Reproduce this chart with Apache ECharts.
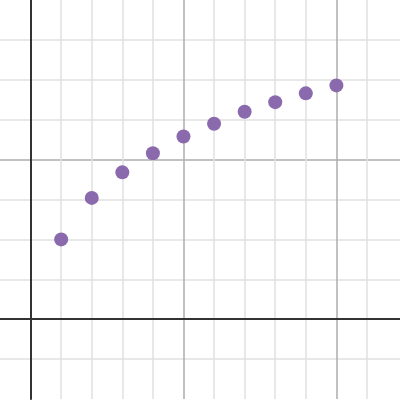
<!DOCTYPE html>
<html>
<head>
<meta charset="utf-8">
<script src="https://cdn.jsdelivr.net/npm/echarts@6/dist/echarts.min.js"></script>
<style>html,body{margin:0;padding:0;background:#fff}#c{width:400px;height:400px}</style>
</head>
<body>
<div id="c"></div>
<script>
const xValues = [1, 2, 3, 4, 5, 6, 7, 8, 9, 10];
const yValues = [1.0, 1.52, 1.84, 2.08, 2.29, 2.45, 2.6, 2.72, 2.83, 2.93];

const MINOR = '#e0e0e0';
const MAJOR = '#acacac';
const AXIS = '#333333';

const xColors = [MAJOR, MINOR, MINOR, MINOR, MINOR, MAJOR, MINOR, MINOR, MINOR, MINOR, MAJOR, MINOR, 'rgba(0,0,0,0)', MINOR, MINOR];

const chart = echarts.init(document.getElementById('c'), null, {renderer: 'canvas'});
chart.setOption({
  animation: false,
  backgroundColor: '#ffffff',
  grid: {left: -2.25, right: 0, top: -1, bottom: 1, containLabel: false},
  xAxis: {
    type: 'value', min: -1, max: 12.08, interval: 1,
    axisLabel: {show: false}, axisTick: {show: false},
    axisLine: {show: true, onZero: true, lineStyle: {color: AXIS, width: 2}},
    splitLine: {show: true, showMinLine: false, showMaxLine: false,
      lineStyle: {color: xColors, width: 1.5}}
  },
  yAxis: {
    type: 'value', min: -1, max: 4, interval: 0.5,
    axisLabel: {show: false}, axisTick: {show: false},
    axisLine: {show: true, onZero: true, lineStyle: {color: AXIS, width: 2}},
    splitLine: {show: true, showMinLine: false, showMaxLine: false,
      lineStyle: {color: [MINOR, MAJOR, MINOR, MINOR], width: 1.5}}
  },
  series: [{
    type: 'scatter',
    symbolSize: 14,
    itemStyle: {color: '#8a6aad', opacity: 1},
    data: xValues.map((x, i) => [x, yValues[i]])
  }]
});
</script>
</body>
</html>
